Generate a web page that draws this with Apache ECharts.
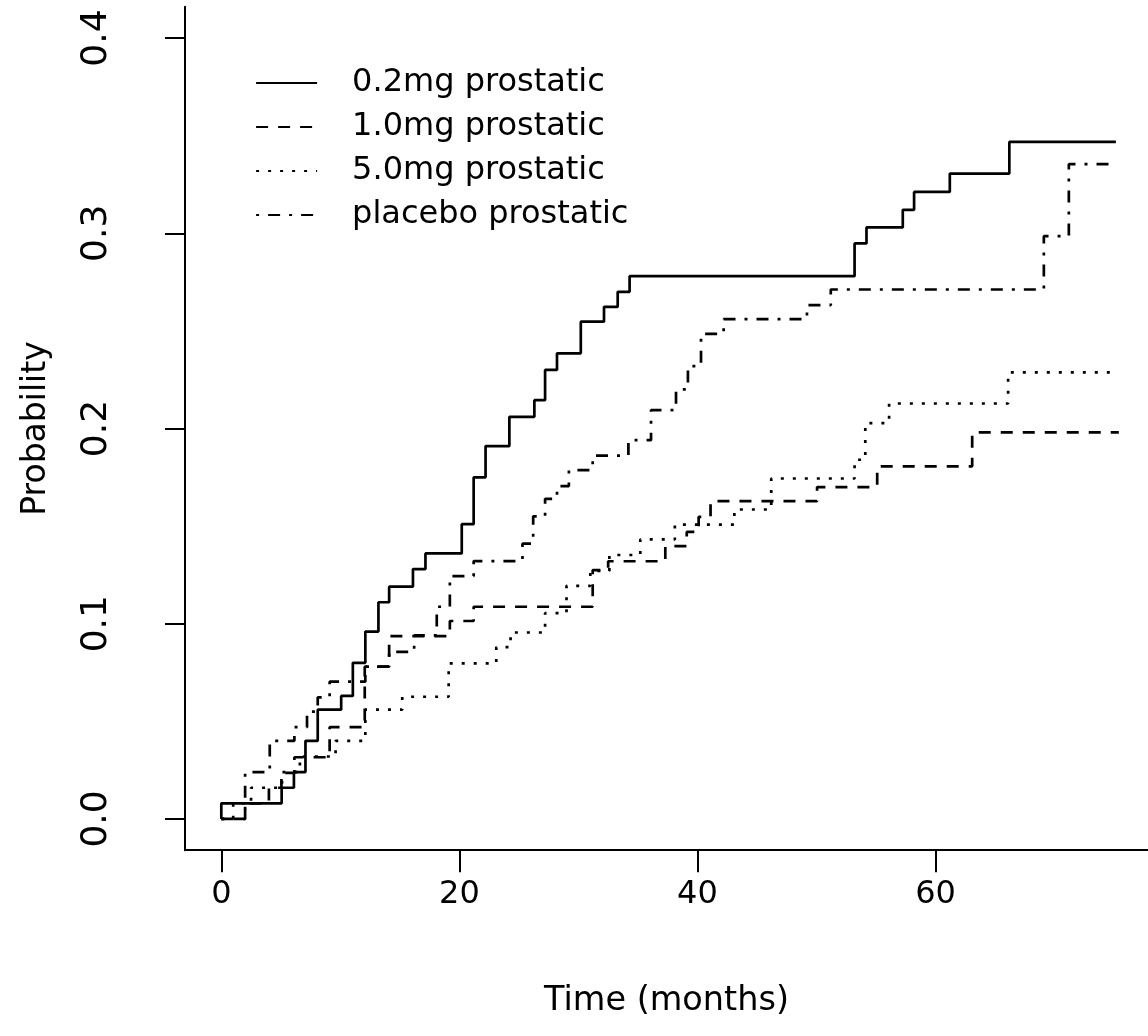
<!DOCTYPE html>
<html>
<head>
<meta charset="utf-8">
<script src="https://cdn.jsdelivr.net/npm/echarts@6/dist/echarts.min.js"></script>
<style>
html,body{margin:0;padding:0;background:#fff;}
#chart{width:1148px;height:1036px;}
</style>
</head>
<body>
<div id="chart"></div>
<script>
// ---- data (step points: value holds from time until next time) ----
var seriesNames = ['0.2mg prostatic', '1.0mg prostatic', '5.0mg prostatic', 'placebo prostatic'];

var time02 = [0, 0, 5.07, 6.1, 7.07, 8.1, 10.07, 11.05, 12.1, 13.2, 14.1, 16.1, 17.15, 20.2, 21.2, 22.2, 24.2, 26.3, 27.2, 28.2, 30.2, 32.15, 33.3, 34.3, 53.2, 54.2, 57.25, 58.2, 61.2, 66.2, 75.15];
var prob02 = [0, 0.008, 0.016, 0.024, 0.040, 0.056, 0.063, 0.080, 0.096, 0.111, 0.119, 0.128, 0.136, 0.151, 0.175, 0.191, 0.206, 0.2145, 0.230, 0.2385, 0.2547, 0.2623, 0.270, 0.278, 0.2948, 0.303, 0.312, 0.3212, 0.3306, 0.3468, 0.3468];

var time10 = [0, 2.0, 4.0, 5.05, 6.14, 9.1, 12.05, 14.1, 19.2, 21.2, 31.2, 32.5, 37.3, 39.1, 40.1, 41.1, 50.05, 55.1, 63.08, 75.4];
var prob10 = [0, 0.008, 0.016, 0.0236, 0.0316, 0.047, 0.078, 0.0937, 0.1014, 0.1087, 0.1275, 0.132, 0.1398, 0.147, 0.1547, 0.1628, 0.170, 0.1806, 0.198, 0.198];

var time50 = [0, 1.0, 2.5, 5.1, 6.6, 9.6, 12.1, 15.2, 19.1, 23.1, 24.3, 27.2, 29.0, 31.0, 32.6, 35.2, 38.1, 43.1, 46.2, 53.2, 54.1, 56.1, 66.1, 74.8];
var prob50 = [0, 0.008, 0.016, 0.024, 0.032, 0.040, 0.056, 0.0626, 0.0797, 0.088, 0.0955, 0.1054, 0.1194, 0.127, 0.1352, 0.1432, 0.1508, 0.1585, 0.1744, 0.184, 0.2028, 0.2128, 0.2287, 0.2287];

var timePl = [0, 2.0, 4.07, 6.14, 7.2, 8.1, 9.1, 12.1, 14.1, 16.2, 18.1, 19.2, 21.2, 25.3, 26.2, 27.2, 28.2, 29.2, 31.2, 34.2, 36.1, 38.2, 39.2, 40.3, 42.2, 49.2, 51.2, 69.1, 71.2, 75.0];
var probPl = [0, 0.024, 0.040, 0.047, 0.055, 0.0623, 0.0703, 0.078, 0.0856, 0.094, 0.1087, 0.1244, 0.1321, 0.141, 0.155, 0.164, 0.1705, 0.1787, 0.1861, 0.194, 0.2094, 0.220, 0.232, 0.2485, 0.256, 0.2632, 0.2712, 0.2985, 0.3354, 0.3354];

var xTicks = [0, 20, 40, 60];
var yTicks = [0, 0.1, 0.2, 0.3, 0.4];
var xTitle = 'Time (months)';
var yTitle = 'Probability';

// ---- chart ----
function pairs(t, v) { return t.map(function (x, i) { return [x, v[i]]; }); }
var FONT = 'DejaVu Sans';
var dashes = ['solid', [12, 10], [3, 9], [3, 9, 12, 9]];
var dataSets = [pairs(time02, prob02), pairs(time10, prob10), pairs(time50, prob50), pairs(timePl, probPl)];

var chart = echarts.init(document.getElementById('chart'), null, {renderer: 'canvas'});
chart.setOption({
  animation: false,
  backgroundColor: '#ffffff',
  grid: {left: 185, top: 6.8, right: 0, bottom: 185.8, containLabel: false},
  legend: {
    orient: 'vertical', left: 255, top: 67, padding: 0,
    itemWidth: 61, itemHeight: 20, itemGap: 12,
    data: seriesNames,
    itemStyle: {color: 'rgba(0,0,0,0)', borderWidth: 0, opacity: 0},
    lineStyle: {width: 2.2},
    textStyle: {fontFamily: FONT, fontSize: 32, color: '#000', lineHeight: 32, padding: [0, 0, 0, 30]},
    selectedMode: false
  },
  xAxis: {
    type: 'value', min: -3.05, max: 77.85,
    name: xTitle, nameLocation: 'middle', nameGap: 134,
    nameTextStyle: {fontFamily: FONT, fontSize: 33.5, color: '#000'},
    axisLine: {show: true, onZero: false, lineStyle: {color: '#000', width: 2}},
    axisTick: {show: true, length: 22, lineStyle: {color: '#000', width: 2}, customValues: xTicks},
    axisLabel: {fontFamily: FONT, fontSize: 32, color: '#000', margin: 28, customValues: xTicks},
    splitLine: {show: false}
  },
  yAxis: {
    type: 'value', min: -0.016, max: 0.416,
    name: yTitle, nameLocation: 'middle', nameGap: 132, nameRotate: 90,
    nameTextStyle: {fontFamily: FONT, fontSize: 33, color: '#000'},
    axisLine: {show: true, onZero: false, lineStyle: {color: '#000', width: 2}},
    axisTick: {show: true, length: 20, lineStyle: {color: '#000', width: 2}, customValues: yTicks},
    axisLabel: {fontFamily: FONT, fontSize: 36, color: '#000', margin: 70, rotate: 90,
      customValues: yTicks, formatter: function (v) { return v.toFixed(1); }},
    splitLine: {show: false}
  },
  series: seriesNames.map(function (n, i) {
    return {
      name: n, type: 'line', step: 'end', data: dataSets[i],
      showSymbol: false, symbol: 'none',
      lineStyle: {color: '#000', width: 2.7, type: dashes[i]},
      itemStyle: {color: '#000'}
    };
  })
});
</script>
</body>
</html>
